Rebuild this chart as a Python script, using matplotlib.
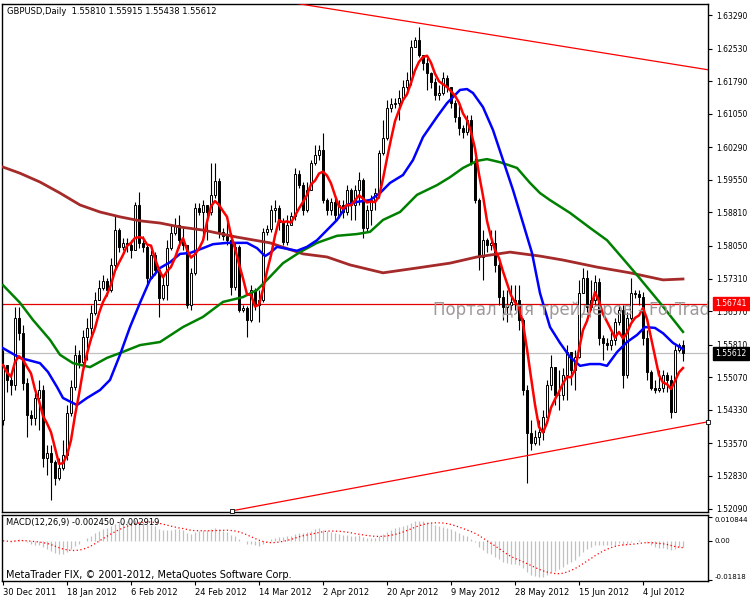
import numpy as np
import pandas as pd
import matplotlib
matplotlib.use("Agg")
import matplotlib.pyplot as plt
import matplotlib.transforms as mtransforms

plt.rcParams['font.family'] = ['DejaVu Sans']
plt.rcParams['font.size'] = 6

# GBPUSD daily bars, 30 Dec 2011 .. mid Jul 2012
first_open = 1.5410
close = [1.5535, 1.5501, 1.5489, 1.5642, 1.5607, 1.5494, 1.5421, 1.5415, 1.5460, 1.5478,
         1.5324, 1.5335, 1.5315, 1.5278, 1.5301, 1.5331, 1.5426, 1.5485, 1.5558, 1.5542,
         1.5598, 1.5619, 1.5653, 1.5682, 1.5710, 1.5725, 1.5705, 1.5762, 1.5841, 1.5803,
         1.5812, 1.5807, 1.5796, 1.5898, 1.5812, 1.5803, 1.5732, 1.5784, 1.5750, 1.5687,
         1.5716, 1.5800, 1.5834, 1.5853, 1.5818, 1.5807, 1.5671, 1.5744, 1.5891, 1.5882,
         1.5898, 1.5882, 1.5921, 1.5952, 1.5837, 1.5828, 1.5818, 1.5712, 1.5803, 1.5660,
         1.5664, 1.5637, 1.5705, 1.5671, 1.5682, 1.5837, 1.5843, 1.5887, 1.5891, 1.5859,
         1.5814, 1.5853, 1.5873, 1.5968, 1.5943, 1.5887, 1.5932, 1.5993, 1.6011, 1.6023,
         1.5909, 1.5887, 1.5905, 1.5875, 1.5898, 1.5882, 1.5932, 1.5898, 1.5932, 1.5955,
         1.5846, 1.5887, 1.5909, 1.5925, 1.6016, 1.6050, 1.6118, 1.6127, 1.6129, 1.6141,
         1.6166, 1.6182, 1.6256, 1.6272, 1.6238, 1.6220, 1.6197, 1.6177, 1.6147, 1.6152,
         1.6186, 1.6166, 1.6129, 1.6097, 1.6073, 1.6063, 1.6091, 1.5995, 1.5909, 1.5780,
         1.5818, 1.5807, 1.5812, 1.5762, 1.5689, 1.5666, 1.5671, 1.5678, 1.5682, 1.5637,
         1.5478, 1.5380, 1.5358, 1.5371, 1.5383, 1.5417, 1.5489, 1.5530, 1.5467, 1.5467,
         1.5512, 1.5564, 1.5524, 1.5553, 1.5698, 1.5732, 1.5666, 1.5682, 1.5723, 1.5596,
         1.5585, 1.5580, 1.5592, 1.5632, 1.5660, 1.5512, 1.5642, 1.5698, 1.5696, 1.5689,
         1.5596, 1.5519, 1.5483, 1.5478, 1.5483, 1.5512, 1.5501, 1.5428, 1.5569, 1.5581,
         1.55612]
high = [1.5569, 1.5528, 1.5519, 1.5666, 1.5666, 1.5626, 1.5505, 1.5433, 1.5474, 1.5501,
        1.5489, 1.5353, 1.5353, 1.5319, 1.5324, 1.5365, 1.5444, 1.5501, 1.5580, 1.5569,
        1.5614, 1.5642, 1.5671, 1.5700, 1.5728, 1.5739, 1.5732, 1.5778, 1.5875, 1.5846,
        1.5823, 1.5823, 1.5818, 1.5905, 1.5927, 1.5828, 1.5807, 1.5796, 1.5791, 1.5755,
        1.5739, 1.5818, 1.5853, 1.5868, 1.5875, 1.5846, 1.5796, 1.5755, 1.5902, 1.5902,
        1.5909, 1.5898, 1.5993, 1.5993, 1.5959, 1.5846, 1.5859, 1.5834, 1.5812, 1.5807,
        1.5671, 1.5669, 1.5716, 1.5710, 1.5705, 1.5846, 1.5853, 1.5898, 1.5909, 1.5898,
        1.5868, 1.5875, 1.5882, 1.5982, 1.5977, 1.5950, 1.5950, 1.6000, 1.6034, 1.6034,
        1.6061, 1.5914, 1.5914, 1.5914, 1.5909, 1.5909, 1.5943, 1.5936, 1.5943, 1.5973,
        1.5959, 1.5898, 1.5921, 1.5936, 1.6023, 1.6091, 1.6136, 1.6141, 1.6141, 1.6159,
        1.6182, 1.6200, 1.6272, 1.6279, 1.6302, 1.6238, 1.6231, 1.6200, 1.6186, 1.6170,
        1.6200, 1.6193, 1.6163, 1.6136, 1.6125, 1.6079, 1.6102, 1.6102, 1.6004, 1.5914,
        1.5841, 1.5823, 1.5841, 1.5841, 1.5768, 1.5705, 1.5705, 1.5716, 1.5716, 1.5716,
        1.5642, 1.5489, 1.5410, 1.5387, 1.5410, 1.5433, 1.5501, 1.5558, 1.5530, 1.5524,
        1.5528, 1.5580, 1.5558, 1.5569, 1.5728, 1.5755, 1.5750, 1.5728, 1.5739, 1.5732,
        1.5603, 1.5596, 1.5610, 1.5642, 1.5671, 1.5671, 1.5655, 1.5732, 1.5705, 1.5705,
        1.5700, 1.5614, 1.5524, 1.5501, 1.5524, 1.5524, 1.5519, 1.5512, 1.5580, 1.5585,
        1.55915]
low = [1.5399, 1.5474, 1.5467, 1.5478, 1.5592, 1.5478, 1.5371, 1.5399, 1.5399, 1.5387,
       1.5303, 1.5285, 1.5229, 1.5263, 1.5274, 1.5297, 1.5319, 1.5419, 1.5478, 1.5528,
       1.5524, 1.5546, 1.5592, 1.5648, 1.5682, 1.5705, 1.5691, 1.5700, 1.5755, 1.5791,
       1.5796, 1.5791, 1.5778, 1.5796, 1.5800, 1.5791, 1.5716, 1.5768, 1.5739, 1.5644,
       1.5682, 1.5682, 1.5796, 1.5830, 1.5800, 1.5796, 1.5664, 1.5660, 1.5739, 1.5875,
       1.5818, 1.5818, 1.5875, 1.5914, 1.5823, 1.5818, 1.5807, 1.5694, 1.5705, 1.5655,
       1.5655, 1.5598, 1.5632, 1.5660, 1.5632, 1.5678, 1.5830, 1.5837, 1.5859, 1.5841,
       1.5807, 1.5807, 1.5853, 1.5864, 1.5936, 1.5875, 1.5882, 1.5932, 1.5989, 1.6000,
       1.5902, 1.5875, 1.5875, 1.5864, 1.5868, 1.5868, 1.5875, 1.5864, 1.5864, 1.5898,
       1.5823, 1.5837, 1.5853, 1.5887, 1.5914, 1.6011, 1.6045, 1.6109, 1.6118, 1.6091,
       1.6136, 1.6159, 1.6170, 1.6261, 1.6234, 1.6204, 1.6159, 1.6163, 1.6136, 1.6136,
       1.6147, 1.6154, 1.6118, 1.6086, 1.6057, 1.6050, 1.6057, 1.5989, 1.5902, 1.5750,
       1.5728, 1.5791, 1.5796, 1.5746, 1.5671, 1.5637, 1.5632, 1.5660, 1.5660, 1.5614,
       1.5467, 1.5267, 1.5342, 1.5353, 1.5353, 1.5365, 1.5410, 1.5478, 1.5444, 1.5433,
       1.5455, 1.5455, 1.5489, 1.5478, 1.5551, 1.5700, 1.5655, 1.5660, 1.5671, 1.5580,
       1.5546, 1.5569, 1.5569, 1.5580, 1.5626, 1.5483, 1.5505, 1.5637, 1.5687, 1.5671,
       1.5580, 1.5501, 1.5478, 1.5471, 1.5474, 1.5474, 1.5474, 1.5415, 1.5428, 1.5564,
       1.55438]

# slower moving averages (they need history before the window, so read as points)
blue_x = [0, 4.25, 9.25, 11.25, 13.5, 15, 18.5, 21, 24.25, 26.75, 29.25, 31.75, 34.25, 36.75,
          39.25, 41.75, 44.25, 46.75, 50, 52.5, 56, 61, 63.5, 65.5, 66.75, 68.5, 73.5, 76,
          78.5, 81, 83.5, 86, 88.5, 91.75, 94.25, 96.75, 100, 102.5, 105, 108.5, 111,
          114.25, 116, 117.5, 120, 122.5, 125, 127.5, 130, 132.25, 134.25, 136.75, 139.25,
          141.75, 144.25, 146.75, 149.25, 151, 153.5, 156, 158.5, 160.5, 163, 165, 167.5, 170]
blue_y = [1.5573, 1.5551, 1.5539, 1.5519, 1.5485, 1.5460, 1.5444, 1.5460, 1.5478, 1.5501,
          1.5558, 1.5621, 1.5676, 1.5728, 1.5755, 1.5768, 1.5787, 1.5789, 1.5800, 1.5809,
          1.5812, 1.5812, 1.5800, 1.5782, 1.5789, 1.5803, 1.5794, 1.5803, 1.5818, 1.5841,
          1.5864, 1.5898, 1.5905, 1.5909, 1.5925, 1.5948, 1.5966, 1.6000, 1.6052, 1.6098,
          1.6129, 1.6159, 1.6161, 1.6152, 1.6120, 1.6068, 1.6000, 1.5932, 1.5857, 1.5789,
          1.5698, 1.5621, 1.5585, 1.5553, 1.5533, 1.5537, 1.5537, 1.5533, 1.5564, 1.5587,
          1.5603, 1.5621, 1.5619, 1.5607, 1.5585, 1.5571]
green_x = [0, 4.25, 7.5, 11.75, 14.25, 17.5, 21.75, 26, 29.25, 34.25, 39.25, 45, 50, 55, 60,
           63.5, 66.75, 70, 74.25, 78.5, 83.5, 88.5, 91.75, 95, 99.25, 103.5, 108.5, 111.75,
           115, 118.5, 121, 124.25, 128.5, 131.75, 134.25, 136.75, 141.75, 146.75, 151,
           154.25, 158.5, 164.25, 170]
green_y = [1.5716, 1.5676, 1.5637, 1.5592, 1.5558, 1.5539, 1.5530, 1.5551, 1.5562, 1.5580,
           1.5587, 1.5621, 1.5644, 1.5678, 1.5689, 1.5705, 1.5735, 1.5766, 1.5791, 1.5812,
           1.5828, 1.5832, 1.5837, 1.5864, 1.5882, 1.5921, 1.5943, 1.5961, 1.5982, 1.5998,
           1.6002, 1.5995, 1.5982, 1.5948, 1.5925, 1.5909, 1.5880, 1.5846, 1.5818, 1.5784,
           1.5739, 1.5676, 1.5610]
brown_x = [0, 4.25, 9.25, 14.25, 19.25, 24.25, 29.25, 34.25, 39.25, 44.25, 50, 58.5, 66.75,
           75, 81, 86.75, 95, 103.5, 111.75, 118.5, 126.75, 134.25, 140, 148.5, 156.75, 165, 170]
brown_y = [1.5984, 1.5970, 1.5950, 1.5925, 1.5898, 1.5882, 1.5871, 1.5862, 1.5857, 1.5848,
           1.5841, 1.5825, 1.5812, 1.5787, 1.5780, 1.5762, 1.5744, 1.5755, 1.5766, 1.5780,
           1.5791, 1.5782, 1.5773, 1.5757, 1.5744, 1.5728, 1.5730]

# trend lines (bar, price) and horizontal levels
upper_line = ([72.25, 176.75], [1.6357, 1.6204])
lower_line = ([57.25, 176.25], [1.5204, 1.5406])
level_red = 1.56741
level_bid = 1.55612

price_ticks = [1.63290, 1.62530, 1.61790, 1.61050, 1.60290, 1.59550, 1.58810, 1.58050,
               1.57310, 1.56570, 1.55810, 1.55070, 1.54330, 1.53570, 1.52830, 1.52090]
date_labels = ["30 Dec 2011", "18 Jan 2012", "6 Feb 2012", "24 Feb 2012", "14 Mar 2012",
               "2 Apr 2012", "20 Apr 2012", "9 May 2012", "28 May 2012", "15 Jun 2012",
               "4 Jul 2012"]
date_step = 16

n = len(close)
x = np.arange(n)
opens = np.array([first_open] + close[:-1])
closes = np.array(close)
highs = np.maximum.reduce([np.array(high), opens, closes])
lows = np.minimum.reduce([np.array(low), opens, closes])

s = pd.Series(closes)
fast_ma = s.rolling(5, min_periods=1).mean()
macd = s.ewm(span=12, adjust=False).mean() - s.ewm(span=26, adjust=False).mean()
signal = macd.rolling(9, min_periods=1).mean()

fig = plt.figure(figsize=(7.5, 6), dpi=100)
ax = fig.add_axes([2 / 750, 88 / 600, 706 / 750, 508 / 600])
ax2 = fig.add_axes([2 / 750, 19 / 600, 706 / 750, 66 / 600], sharex=ax)

# candles
ax.vlines(x, lows, highs, color='black', lw=0.8, zorder=2)
up = closes >= opens
body_bottom = np.minimum(opens, closes)
body_h = np.abs(closes - opens)
ax.bar(x, body_h, bottom=body_bottom, width=0.55,
       color=np.where(up, 'white', 'black'), edgecolor='black', lw=0.7, zorder=3)

ax.plot(brown_x, brown_y, color='#a52a2a', lw=2.0, zorder=4)
ax.plot(green_x, green_y, color='#008000', lw=1.8, zorder=4)
ax.plot(blue_x, blue_y, color='#0000ff', lw=1.8, zorder=4)
ax.plot(x, fast_ma, color='#ff0000', lw=1.8, zorder=5)

ax.plot(*upper_line, color='#ff0000', lw=0.9, zorder=4)
ax.plot(*lower_line, color='#ff0000', lw=0.9, zorder=4)
ax.plot(*lower_line, ls='none', marker='s', ms=2.5, mfc='white', mec='black', mew=0.6,
        zorder=6, clip_on=False)
ax.axhline(level_red, color='#e00000', lw=0.9, zorder=1)
ax.axhline(level_bid, color='#c0c0c0', lw=0.9, zorder=1)

ax.text(107.5, 1.5659, "Портал для трейдеров - ForTrader.ru", fontsize=12,
        color='#a09898', va='center', ha='left', zorder=7, clip_on=True)

ax.set_xlim(-0.25, 176.25)
ax.set_ylim(1.52013, 1.6354)
ax.yaxis.tick_right()
ax.set_yticks(price_ticks)
ax.set_yticklabels([f"{v:.5f}" for v in price_ticks])
ax.tick_params(axis='y', direction='out', length=3, width=0.8, pad=3, labelsize=5.5)
ax.tick_params(axis='x', bottom=False, labelbottom=False)
for sp in ax.spines.values():
    sp.set_linewidth(1.0)

ax.text(0.007, 0.986, "GBPUSD,Daily  1.55810 1.55915 1.55438 1.55612",
        transform=ax.transAxes, va='center', ha='left', fontsize=6)

tr = mtransforms.blended_transform_factory(ax.transAxes, ax.transData)
ax.text(1.0105, level_red, f"{level_red:.5f}", transform=tr, color='white', fontsize=5.5,
        va='center', ha='left', clip_on=False, zorder=10,
        bbox=dict(boxstyle='square,pad=0.3', fc='#ff0000', ec='#ff0000'))
ax.text(1.0105, level_bid, f"{level_bid:.5f}", transform=tr, color='white', fontsize=5.5,
        va='center', ha='left', clip_on=False, zorder=10,
        bbox=dict(boxstyle='square,pad=0.3', fc='black', ec='black'))

# MACD panel
ax2.vlines(x, 0, macd, color='#c0c0c0', lw=0.9)
ax2.plot(x, signal, color='#ff0000', lw=0.9, ls=(0, (1, 2)))
ax2.set_ylim(-0.01864, 0.0120)
macd_ticks = [0.010844, 0.0, -0.01818]
ax2.yaxis.tick_right()
ax2.set_yticks(macd_ticks)
ax2.set_yticklabels(["0.010844", "0.00", "-0.01818"])
labs = ax2.get_yticklabels()
labs[0].set_va('top')
labs[2].set_va('bottom')
ax2.tick_params(axis='y', direction='out', length=3, width=0.8, pad=2, labelsize=5)
ax2.set_xticks(np.arange(len(date_labels)) * date_step)
ax2.set_xticklabels(date_labels, ha='left')
ax2.tick_params(axis='x', direction='out', length=3, width=0.8, pad=2, labelsize=6)
for sp in ax2.spines.values():
    sp.set_linewidth(1.0)

ax2.text(0.006, 0.88, "MACD(12,26,9) -0.002450 -0.002919", transform=ax2.transAxes,
         va='center', ha='left', fontsize=6)
ax2.text(0.006, 0.09, "MetaTrader FIX, © 2001-2012, MetaQuotes Software Corp.",
         transform=ax2.transAxes, va='center', ha='left', fontsize=7)

fig.savefig("out.png", dpi=100)
